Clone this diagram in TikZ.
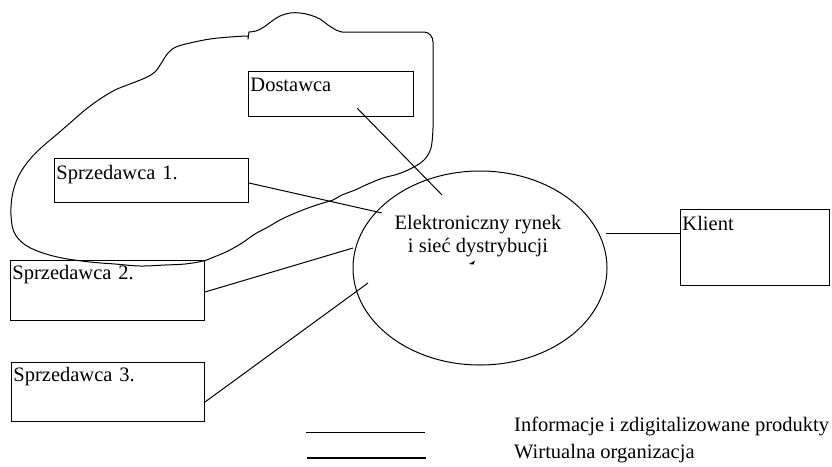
\documentclass[tikz,border=0pt]{standalone}
\usepackage{fontspec}
\setmainfont{Liberation Serif}
\usetikzlibrary{shapes.geometric}
\begin{document}
\begin{tikzpicture}[x=1pt,y=-1pt,
  txt/.style={font=\fontsize{20.5}{23.5}\selectfont},
  box/.style={txt, draw, line width=0.9pt, anchor=north west,
    inner xsep=2pt, inner ysep=0pt, align=left},
  link/.style={line width=1pt},
  cloud/.style={line width=1pt, line join=round, line cap=round},
]
\useasboundingbox (0,0) rectangle (832,466);

% virtual organisation outline
\draw[cloud] (246,36) -- (248,36) -- (248,39) -- (249,32)
  -- plot[smooth,tension=.6] coordinates {(249,32) (256,31) (264,27) (272,21)
     (280,16) (290,13) (300,13) (310,15) (320,19) (328,25) (336,30) (342,32)}
  -- (424,32) to[out=0,in=90] (433,42) -- (433,128)
  -- plot[smooth,tension=.6] coordinates {(433,128) (431,148) (424,160) (412,168)
     (398,174) (383,178) (368,184) (355,190) (342,195) (333,200) (323,203)
     (308,208) (293,214) (280,220) (268,227) (255,234) (242,243) (228,251)
     (214,257) (203,261) (185,264) (165,265) (140,266) (115,264) (90,262)
     (62,258) (40,252) (24,244) (14,232) (11,215) (12,197) (16,182) (22,170)
     (31,158) (42,147) (55,136) (70,123) (85,110) (100,99) (115,90) (130,84)
     (145,78) (155,72) (162,62) (168,53) (176,47) (190,43) (210,39) (230,37)
     (246,36)};

% participants
\node[box, text width=161pt, text height=20pt, text depth=25pt] (dost) at (248,71) {Dostawca};
\node[box, text width=190pt, text height=21pt, text depth=23pt] (s1) at (54,158) {Sprzedawca 1.};
\node[box, text width=190pt, text height=19pt, text depth=41pt] (s2) at (10,260) {Sprzedawca 2.};
\node[box, text width=189pt, text height=19pt, text depth=40pt] (s3) at (11,362) {Sprzedawca 3.};
\node[box, text width=145pt, text height=21pt, text depth=55pt] (klient) at (680,209) {Klient};

% market
\node[draw, ellipse, line width=1pt, minimum width=254pt, minimum height=194pt,
      inner sep=0pt] (rynek) at (480,268) {};
\node[txt, align=center] (rynektxt) at (478,236) {Elektroniczny rynek\\i sieć dystrybucji};
\fill (469,264) -- (475,260.5) -- (473.5,264.5) -- cycle;

% connectors
\coordinate (dA) at (357,108);  \coordinate (dB) at (442,195);
\coordinate (s1A) at (249,183); \coordinate (s1B) at (382,213);
\coordinate (s2A) at (205,292); \coordinate (s2B) at (353,248);
\coordinate (s3A) at (205,402); \coordinate (s3B) at (368,283);
\coordinate (kA) at (606,233);  \coordinate (kB) at (680,233);
\draw[link] (dA) -- (dB);
\draw[link] (s1A) -- (s1B);
\draw[link] (s2A) -- (s2B);
\draw[link] (s3A) -- (s3B);
\draw[link] (kA) -- (kB);

% legend
\coordinate (l1a) at (306,432); \coordinate (l1b) at (425,432);
\coordinate (l2a) at (307,458); \coordinate (l2b) at (426,458);
\draw[line width=1pt] (l1a) -- (l1b);
\draw[line width=1.8pt] (l2a) -- (l2b);
\node[txt, anchor=base west, inner sep=0pt] (lg1) at (514,431) {Informacje i zdigitalizowane produkty};
\node[txt, anchor=base west, inner sep=0pt] (lg2) at (514,458) {Wirtualna organizacja};
\end{tikzpicture}
\end{document}
